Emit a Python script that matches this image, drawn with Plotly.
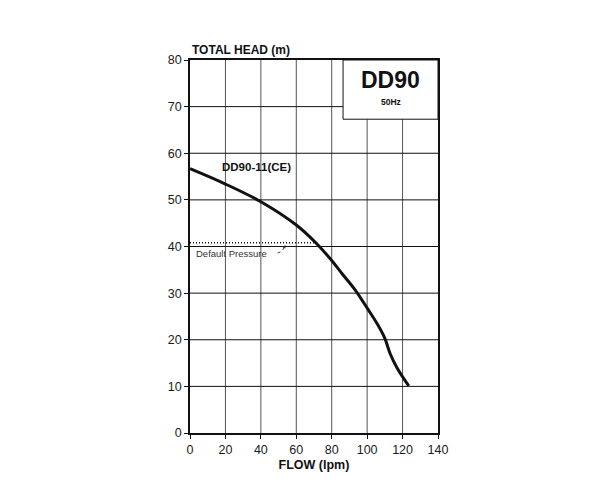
import plotly.graph_objects as go

# pump curve DD90-11(CE)
flow = [0, 20, 40, 60, 71, 80, 86, 93, 100.5, 106, 110, 113, 117, 123.5]
head = [56.7, 53.4, 49.6, 44.6, 40.8, 37.0, 34.1, 30.8, 26.5, 23.2, 20.3, 17.0, 13.9, 10.1]

default_pressure = 40.8
default_flow_end = 72

x_ticks = [0, 20, 40, 60, 80, 100, 120, 140]
y_ticks = [0, 10, 20, 30, 40, 50, 60, 70, 80]

FONT = "Liberation Sans, Arial, sans-serif"

fig = go.Figure()

# vertical grid (gray) and horizontal grid (black) drawn as shapes
for xv in x_ticks[1:-1]:
    fig.add_shape(type="line", x0=xv, x1=xv, y0=0, y1=80,
                  line=dict(color="#555555", width=1), layer="below")
for yv in y_ticks[1:-1]:
    fig.add_shape(type="line", x0=0, x1=140, y0=yv, y1=yv,
                  line=dict(color="#111111", width=1), layer="below")

# default pressure dotted line
fig.add_trace(go.Scatter(
    x=[0, default_flow_end], y=[default_pressure, default_pressure],
    mode="lines", line=dict(color="#111111", width=1.5, dash="1px,2px"),
    showlegend=False, hoverinfo="skip",
))

fig.add_trace(go.Scatter(
    x=flow, y=head, mode="lines",
    line=dict(color="#111111", width=3, shape="spline", smoothing=1),
    name="DD90-11(CE)", showlegend=False,
))

# model box
fig.add_shape(type="rect", x0=86.4, x1=140, y0=67.3, y1=80,
              line=dict(color="#111111", width=1), fillcolor="white", layer="above")

fig.add_annotation(x=113.2, y=75.8, text="<b>DD90</b>", showarrow=False, borderpad=0,
                   font=dict(family=FONT, size=23, color="#111111"))
fig.add_annotation(x=113.2, y=71.1, text="<b>50Hz</b>", showarrow=False, borderpad=0,
                   font=dict(family=FONT, size=8.5, color="#111111"))

fig.add_annotation(x=37.5, y=57.0, text="<b>DD90-11(CE)</b>", showarrow=False,
                   font=dict(family=FONT, size=11.5, color="#111111"))

fig.add_annotation(x=2.5, y=38.6, text="Default Pressure", showarrow=False,
                   xanchor="left", font=dict(family=FONT, size=9.5, color="#333333"))

# small dotted pointer from the label to the line
fig.add_shape(type="path", path="M 49.5 38.6 Q 52 38.8 53.5 40.0",
              line=dict(color="#333333", width=1, dash="dot"))
fig.add_annotation(x=53.8, y=40.3, ax=52.6, ay=39.3, axref="x", ayref="y",
                   text="", showarrow=True, arrowhead=2, arrowsize=0.6,
                   arrowwidth=1, arrowcolor="#333333")

# axis titles
fig.add_annotation(x=0, y=1.0, xref="paper", yref="paper", yanchor="bottom",
                   xanchor="left", yshift=1, text="<b>TOTAL HEAD (m)</b>",
                   showarrow=False, font=dict(family=FONT, size=12, color="#111111"))

fig.update_xaxes(
    range=[0, 140], tickvals=x_ticks, showgrid=False, zeroline=False,
    showline=True, linecolor="#111111", linewidth=1.5, mirror=True,
    ticks="outside", ticklen=4, tickcolor="#111111",
    tickfont=dict(family=FONT, size=12.5, color="#1a1a1a"),
    title=dict(text="<b>FLOW (lpm)</b>", standoff=4,
               font=dict(family=FONT, size=12.5, color="#111111")),
)
fig.update_yaxes(
    range=[0, 80], tickvals=y_ticks, showgrid=False, zeroline=False,
    showline=True, linecolor="#111111", linewidth=1.5, mirror=True,
    ticks="outside", ticklen=4, tickcolor="#111111",
    tickfont=dict(family=FONT, size=12.5, color="#1a1a1a"),
)

# page body adds 8px; margins compensate so the plot box sits where the reference has it
fig.update_layout(
    width=599, height=500,
    margin=dict(l=182, r=169, t=52, b=75),
    plot_bgcolor="white", paper_bgcolor="white",
    font=dict(family=FONT),
)

fig.write_html("out.html")
